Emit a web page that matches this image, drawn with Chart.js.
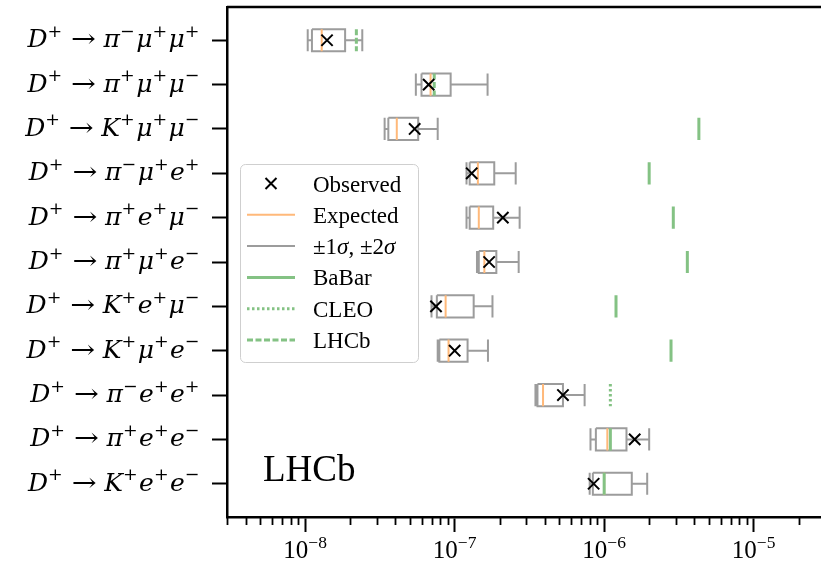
<!DOCTYPE html>
<html>
<head>
<meta charset="utf-8">
<title>D+ rare decay limits</title>
<script src="https://cdn.jsdelivr.net/npm/chart.js@4.4.1/dist/chart.umd.min.js"></script>
<style>
  html, body { margin: 0; padding: 0; background: #fff; overflow: hidden; }
  canvas { display: block; }
</style>
</head>
<body>
<canvas id="chart-limits" width="830" height="569"></canvas>
<script>
// decay channels, top to bottom
const channels = [
    'D⁺ → π⁻μ⁺μ⁺', 'D⁺ → π⁺μ⁺μ⁻', 'D⁺ → K⁺μ⁺μ⁻', 'D⁺ → π⁻μ⁺e⁺',
    'D⁺ → π⁺e⁺μ⁻', 'D⁺ → π⁺μ⁺e⁻', 'D⁺ → K⁺e⁺μ⁻', 'D⁺ → K⁺μ⁺e⁻',
    'D⁺ → π⁻e⁺e⁺', 'D⁺ → π⁺e⁺e⁻', 'D⁺ → K⁺e⁺e⁻'
];

// upper limits on the branching fraction
const observed = [1.4e-8, 6.7e-8, 5.4e-8, 1.3e-7, 2.1e-7, 1.7e-7, 7.5e-8, 1.0e-7, 5.3e-7, 1.6e-6, 8.5e-7];
const expected = [1.29e-8, 6.9e-8, 4.1e-8, 1.43e-7, 1.45e-7, 1.58e-7, 8.7e-8, 9.1e-8, 3.9e-7, 1.05e-6, 1.0e-6];
const minus2 = [1.04e-8, 5.5e-8, 3.4e-8, 1.2e-7, 1.2e-7, 1.41e-7, 7.0e-8, 7.7e-8, 3.47e-7, 8.1e-7, 8.0e-7];
const minus1 = [1.11e-8, 6.0e-8, 3.6e-8, 1.26e-7, 1.26e-7, 1.45e-7, 7.6e-8, 7.9e-8, 3.58e-7, 8.8e-7, 8.4e-7];
const plus1 = [1.85e-8, 9.4e-8, 5.7e-8, 1.84e-7, 1.81e-7, 1.9e-7, 1.34e-7, 1.22e-7, 5.3e-7, 1.41e-6, 1.53e-6];
const plus2 = [2.41e-8, 1.66e-7, 7.7e-8, 2.56e-7, 2.72e-7, 2.68e-7, 1.79e-7, 1.67e-7, 7.4e-7, 2.0e-6, 1.94e-6];

// previous results
const babar = [null, null, 4.3e-6, 2.0e-6, 2.9e-6, 3.6e-6, 1.2e-6, 2.8e-6, null, 1.1e-6, 1.0e-6];
const cleo = [null, null, null, null, null, null, null, null, 1.1e-6, null, null];
const lhcbPrev = [2.2e-8, 7.3e-8, null, null, null, null, null, null, null, null, null];

const decadeTicks = [1e-8, 1e-7, 1e-6, 1e-5];

const SERIF = '"Liberation Serif", "DejaVu Serif", serif';
const MATH = '"DejaVu Serif", "Liberation Serif", serif';
const BOX_HALF = 0.25;
const GRAY = '#9c9c9c';
const ORANGE = '#ffb97a';
const GREEN = '#84c284';

// each segment becomes a run of points followed by a gap
function segments(list) {
    const pts = [];
    list.forEach(seg => {
        seg.forEach(([x, y]) => pts.push({ x, y }));
        pts.push({ x: null, y: null });
    });
    return pts;
}

function boxSegments() {
    const segs = [];
    channels.forEach((_, i) => {
        const y = i + 1, lo = y - BOX_HALF, hi = y + BOX_HALF;
        segs.push([[minus1[i], lo], [plus1[i], lo], [plus1[i], hi], [minus1[i], hi], [minus1[i], lo]]);
        segs.push([[minus2[i], y], [minus1[i], y]]);
        segs.push([[plus1[i], y], [plus2[i], y]]);
        segs.push([[minus2[i], lo], [minus2[i], hi]]);
        segs.push([[plus2[i], lo], [plus2[i], hi]]);
    });
    return segments(segs);
}

function markers(values) {
    return segments(values
        .map((v, i) => v == null ? null : [[v, i + 1 - BOX_HALF], [v, i + 1 + BOX_HALF]])
        .filter(Boolean));
}

const lineStyle = { showLine: true, pointRadius: 0, pointHoverRadius: 0, spanGaps: false, tension: 0, fill: false, borderCapStyle: 'butt', borderJoinStyle: 'miter' };

// superscript glyphs drawn as small raised text
const SUP = { '⁺': '+', '⁻': '−', '⁰': '0', '¹': '1', '²': '2', '³': '3', '⁴': '4', '⁵': '5', '⁶': '6', '⁷': '7', '⁸': '8', '⁹': '9' };

// opts: space (em width of a blank), supGap (px after a superscript), arrow (em width of →)
function drawRich(ctx, text, x, y, size, align, italicTest, family, opts = {}) {
    const supSize = size * 0.7;
    const toks = [...text].map(ch => SUP[ch]
        ? { t: SUP[ch], sup: true, it: false }
        : { t: ch, sup: false, it: italicTest(ch) });
    const fontFor = tk => `${tk.it ? 'italic ' : ''}${tk.sup ? supSize : size}px ${family}`;
    let w = 0;
    toks.forEach(tk => {
        ctx.font = fontFor(tk);
        tk.w0 = ctx.measureText(tk.t).width;
        tk.w = tk.w0;
        if (tk.t === ' ' && opts.space) tk.w = opts.space * size;
        if (tk.t === '→' && opts.arrow) tk.w = opts.arrow * size;
        if (tk.sup && opts.supGap) tk.w += opts.supGap;
        w += tk.w;
    });
    let cx = align === 'right' ? x - w : align === 'center' ? x - w / 2 : x;
    ctx.textAlign = 'left';
    ctx.textBaseline = 'alphabetic';
    toks.forEach(tk => {
        ctx.font = fontFor(tk);
        if (tk.t === '→' && opts.arrow) {
            // stretched to the width of a math arrow
            ctx.save();
            ctx.translate(cx, y);
            ctx.scale(tk.w / tk.w0, 1);
            ctx.fillText(tk.t, 0, 0);
            ctx.restore();
        } else if (tk.t !== ' ') {
            ctx.fillText(tk.t, cx, tk.sup ? y - size * 0.42 : y);
        }
        cx += tk.w;
    });
}

const mathItalic = ch => /[A-Za-zπμσ]/.test(ch);
const greekItalic = ch => /[πμσ]/.test(ch);

function drawCross(ctx, x, y, r, width) {
    ctx.save();
    ctx.strokeStyle = '#000';
    ctx.lineWidth = width;
    ctx.beginPath();
    ctx.moveTo(x - r, y - r); ctx.lineTo(x + r, y + r);
    ctx.moveTo(x - r, y + r); ctx.lineTo(x + r, y - r);
    ctx.stroke();
    ctx.restore();
}

const decorations = {
    id: 'decorations',
    afterDraw(chart) {
        const { ctx, chartArea: a, scales: { x, y } } = chart;
        ctx.save();
        ctx.fillStyle = '#000';
        ctx.strokeStyle = '#000';

        // top and right spines
        ctx.lineWidth = 2.5;
        ctx.beginPath();
        ctx.moveTo(a.left, a.top); ctx.lineTo(a.right, a.top); ctx.lineTo(a.right, a.bottom);
        ctx.stroke();

        // minor log ticks
        ctx.lineWidth = 1.8;
        ctx.beginPath();
        for (let n = -9; n <= -5; n++) {
            for (let k = 2; k <= 9; k++) {
                const v = k * Math.pow(10, n);
                if (v < x.min || v > x.max) continue;
                const px = Math.round(x.getPixelForValue(v)) + 0.5;
                ctx.moveTo(px, a.bottom); ctx.lineTo(px, a.bottom + 8);
            }
        }
        ctx.stroke();

        // decade labels
        x.ticks.forEach(t => {
            const exp = Math.round(Math.log10(t.value));
            const sup = String(exp).replace('-', '⁻').replace(/\d/g, d => '⁰¹²³⁴⁵⁶⁷⁸⁹'[d]);
            drawRich(ctx, '10' + sup, x.getPixelForValue(t.value), 558, 25, 'center', () => false, SERIF);
        });

        // channel labels
        y.ticks.forEach(t => {
            drawRich(ctx, channels[t.value - 1], a.left - 26, y.getPixelForValue(t.value) + 7, 25,
                'right', mathItalic, MATH, { space: 0.3, supGap: 1.5, arrow: 1.0 });
        });

        // legend
        const lx = a.left + 13, ly = a.top + 157, lw = 178, lh = 198;
        ctx.beginPath();
        ctx.roundRect(lx + 0.5, ly + 0.5, lw, lh, 5);
        ctx.fillStyle = 'rgba(255,255,255,0.85)';
        ctx.fill();
        ctx.strokeStyle = '#cfcfcf';
        ctx.lineWidth = 1;
        ctx.stroke();

        chart.data.datasets.forEach((ds, i) => {
            const ry = ly + 19.5 + i * 31.3;
            if (ds.showLine === false) {
                drawCross(ctx, lx + 31, ry, 5.5, 2);
            } else {
                ctx.save();
                ctx.strokeStyle = ds.borderColor;
                ctx.lineWidth = ds.borderWidth;
                ctx.setLineDash(ds.borderDash || []);
                ctx.beginPath();
                ctx.moveTo(lx + 7, ry); ctx.lineTo(lx + 55, ry);
                ctx.stroke();
                ctx.restore();
            }
            ctx.fillStyle = '#000';
            drawRich(ctx, ds.label, lx + 73, ry + 8, 23, 'left', greekItalic, SERIF);
        });

        // experiment tag
        ctx.fillStyle = '#000';
        ctx.font = `37px ${SERIF}`;
        ctx.textAlign = 'left';
        ctx.textBaseline = 'alphabetic';
        ctx.fillText('LHCb', a.left + 36, 481);

        ctx.restore();
    }
};

new Chart(document.getElementById('chart-limits'), {
    type: 'line',
    data: {
        datasets: [
            {
                label: 'Observed',
                data: observed.map((v, i) => ({ x: v, y: i + 1 })),
                showLine: false,
                pointStyle: 'crossRot',
                pointRadius: 8,
                pointBorderWidth: 2,
                pointBorderColor: '#000',
                pointBackgroundColor: '#000',
                order: 0
            },
            { ...lineStyle, label: 'Expected', data: markers(expected), borderColor: ORANGE, borderWidth: 2, order: 4 },
            { ...lineStyle, label: '±1σ, ±2σ', data: boxSegments(), borderColor: GRAY, borderWidth: 2, order: 5 },
            { ...lineStyle, label: 'BaBar', data: markers(babar), borderColor: GREEN, borderWidth: 3, order: 1 },
            { ...lineStyle, label: 'CLEO', data: markers(cleo), borderColor: GREEN, borderWidth: 3, borderDash: [2.5, 2.5], order: 2 },
            { ...lineStyle, label: 'LHCb', data: markers(lhcbPrev), borderColor: GREEN, borderWidth: 3, borderDash: [6, 2.5], order: 3 }
        ]
    },
    options: {
        responsive: false,
        animation: false,
        layout: { autoPadding: false, padding: { top: 7, right: 5, bottom: 0, left: 0 } },
        plugins: {
            legend: { display: false },
            tooltip: { enabled: false }
        },
        scales: {
            x: {
                type: 'logarithmic',
                min: 3e-9,
                max: 3e-5,
                afterBuildTicks: scale => { scale.ticks = decadeTicks.map(v => ({ value: v, major: true })); },
                afterFit: scale => { scale.height = 52; },
                ticks: { display: false },
                grid: { drawOnChartArea: false, drawTicks: true, tickLength: 15, tickWidth: 2, tickColor: '#000' },
                border: { display: true, color: '#000', width: 2.5 }
            },
            y: {
                type: 'linear',
                reverse: true,
                min: 0.25,
                max: 11.75,
                afterBuildTicks: scale => { scale.ticks = channels.map((_, i) => ({ value: i + 1 })); },
                afterFit: scale => { scale.width = 227; },
                ticks: { display: false },
                grid: { drawOnChartArea: false, drawTicks: true, tickLength: 15, tickWidth: 2, tickColor: '#000' },
                border: { display: true, color: '#000', width: 2.5 }
            }
        }
    },
    plugins: [decorations]
});
</script>
</body>
</html>
